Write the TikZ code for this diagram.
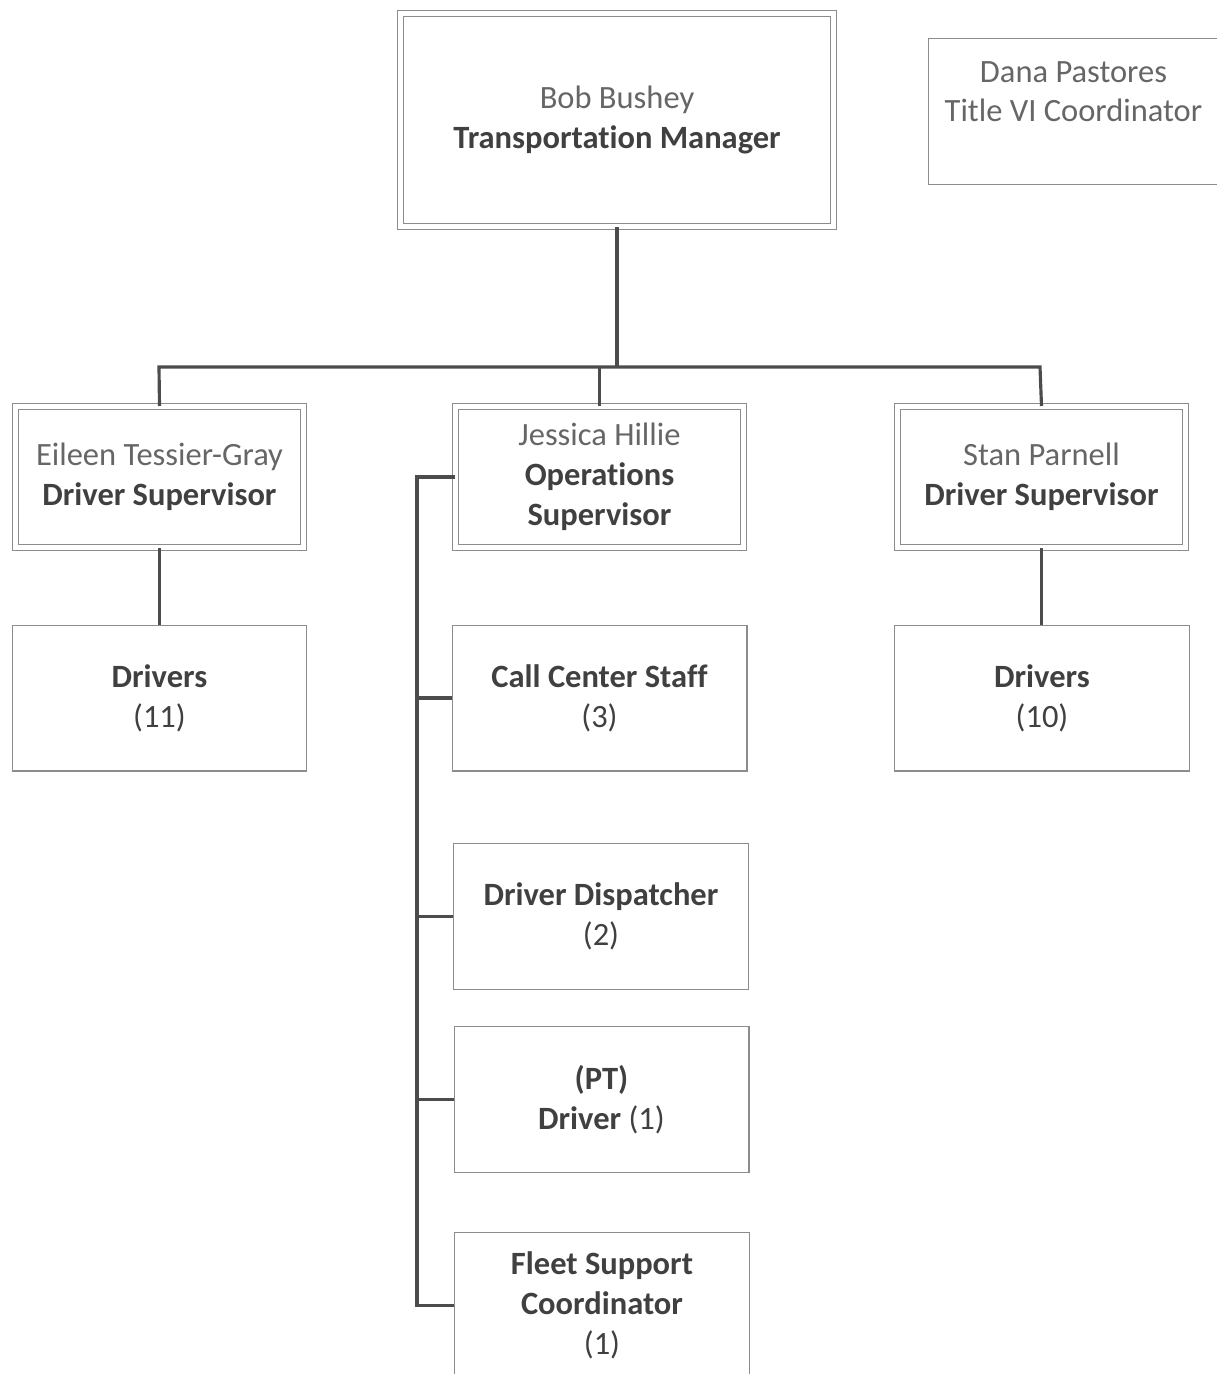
\documentclass[tikz,border=0pt]{standalone}
\usepackage{fontspec}
\setmainfont[Ligatures=NoCommon]{Carlito}
\usetikzlibrary{calc}

\tikzset{
    box/.style={draw=black!45, line width=0.6pt, text=black!75, align=center, inner sep=0pt,
                minimum width=5.9cm, minimum height=2.92cm,
                font=\fontsize{18.5}{22.7}\selectfont},
    dbox/.style={box, double=white, double distance=2.6pt, minimum width=5.76cm, minimum height=2.82cm},
    conn/.style={draw=black!70, line width=1.8pt},
}

\begin{document}
\begin{tikzpicture}[x=0.02cm, y=-0.02cm]
            \useasboundingbox (0,0) rectangle (1217,1374);
            % top level
            \node[dbox, minimum width=8.66cm, minimum height=4.26cm] (mgr) at (617,120)
                {\textcolor{black!60}{Bob Bushey}\\\textbf{Transportation Manager}};
            \node[box, minimum width=5.82cm] (title) at (1073.5,111.5)
                {\textcolor{black!60}{Dana Pastores}\\\textcolor{black!60}{Title VI Coordinator}\\~};
            % supervisors
            \node[dbox] (supA) at (159.5,477) {\textcolor{black!60}{Eileen Tessier-Gray}\\\textbf{Driver Supervisor}};
            \node[dbox] (ops) at (599.5,477) {\textcolor{black!60}{Jessica Hillie}\\\textbf{Operations}\\\textbf{Supervisor}};
            \node[dbox] (supB) at (1041.5,477) {\textcolor{black!60}{Stan Parnell}\\\textbf{Driver Supervisor}};
            % staff
            \node[box] (drvA) at (159.5,698) {\textbf{Drivers}\\(11)};
            \node[box] (call) at (599.5,698) {\textbf{Call Center Staff}\\(3)};
            \node[box] (drvB) at (1042,698) {\textbf{Drivers}\\(10)};
            \node[box] (disp) at (601,916.5) {\textbf{Driver Dispatcher}\\(2)};
            \node[box] (pt) at (601.5,1099.5) {\textbf{(PT)}\\\textbf{Driver} (1)};
            \node[box] (fleet) at (602,1305.5) {\textbf{Fleet Support}\\\textbf{Coordinator}\\(1)};
            % connectors
            \coordinate (busL) at (159,367);
            \coordinate (busR) at (1040,367);
            \coordinate (spine) at (417,477);
            \draw[conn] (mgr.south) -- (mgr.south |- busL);
            \draw[conn] (supA.north) -- (busL) -- (busR) -- (supB.north);
            \draw[conn] (ops.north) -- (ops.north |- busL);
            \draw[conn] (supA.south) -- (drvA.north);
            \draw[conn] (supB.south) -- (supB.south |- drvB.north);
            \draw[conn] (ops.west) -- (spine) |- (fleet.west);
            \foreach \n in {call, disp, pt}
                \draw[conn] (spine |- \n.west) -- (\n.west);
        \end{tikzpicture}
\end{document}
